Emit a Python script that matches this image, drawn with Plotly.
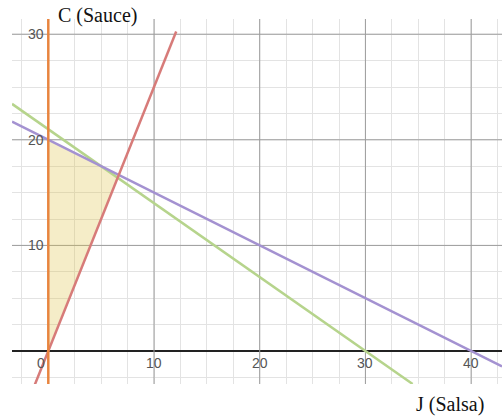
import numpy as np
import plotly.graph_objects as go

# Constraint lines  a*J + b*C = c  (J = Salsa, C = Sauce)
red_slope = 2.5            # C = 2.5 J
green_coef = [7, 10, 210]  # 7J + 10C = 210
purple_coef = [1, 2, 40]   # J + 2C = 40
red_j_range = [-1.4, 12.1]

x_range = [-3.434, 42.92]
y_range = [-3.125, 31.44]

x_major = [0, 10, 20, 30, 40]
y_major = [0, 10, 20, 30]
x_tick_labels = ["0", "10", "20", "30", "40"]
y_tick_labels = ["10", "20", "30"]

c_red = "#D77B79"
c_green = "#B6D48C"
c_purple = "#A492D1"
c_orange = "#E8853F"
c_fill = "rgba(222,195,72,0.30)"
c_major = "#9C9C9C"


def line_c(coef, j):
    a, b, c = coef
    return (c - a * j) / b


def intersect(coef1, coef2):
    A = np.array([coef1[:2], coef2[:2]], dtype=float)
    rhs = np.array([coef1[2], coef2[2]], dtype=float)
    return np.linalg.solve(A, rhs)


red_coef = [red_slope, -1, 0]
gp = intersect(green_coef, purple_coef)
gr = intersect(green_coef, red_coef)

# Feasible region bounded by J = 0, the ratio line and the two limits
region_j = [0, 0, gp[0], gr[0], 0]
region_c = [0, line_c(purple_coef, 0), gp[1], gr[1], 0]

fig = go.Figure()

# major grid lines every 10 units
gx, gy = [], []
for v in x_major[1:]:
    gx += [v, v, None]
    gy += [y_range[0], y_range[1], None]
for v in y_major[1:]:
    gx += [x_range[0], x_range[1], None]
    gy += [v, v, None]
fig.add_trace(go.Scatter(x=gx, y=gy, mode="lines", line=dict(color=c_major, width=1),
                         hoverinfo="skip", connectgaps=False))

fig.add_trace(go.Scatter(x=region_j, y=region_c, fill="toself", fillcolor=c_fill,
                         line=dict(width=0), mode="lines", hoverinfo="skip"))

jg = np.array([x_range[0], (green_coef[2] - green_coef[1] * y_range[0]) / green_coef[0]])
fig.add_trace(go.Scatter(x=jg, y=line_c(green_coef, jg), mode="lines",
                         line=dict(color=c_green, width=2.5)))

jp = np.array([x_range[0], x_range[1]])
fig.add_trace(go.Scatter(x=jp, y=line_c(purple_coef, jp), mode="lines",
                         line=dict(color=c_purple, width=2.5)))

jr = np.array(red_j_range)
fig.add_trace(go.Scatter(x=jr, y=red_slope * jr, mode="lines",
                         line=dict(color=c_red, width=2.5)))

fig.add_trace(go.Scatter(x=[0, 0], y=[y_range[0], y_range[1]], mode="lines",
                         line=dict(color=c_orange, width=2.5)))

tick_font = dict(family="Liberation Sans, Arial, sans-serif", size=14, color="#555555")
annotations = []
for v, s in zip(x_major, x_tick_labels):
    if v == 0:
        annotations.append(dict(x=v, y=0, text=s, showarrow=False, xanchor="right",
                                yanchor="top", xshift=-1, yshift=-2, font=tick_font))
    else:
        annotations.append(dict(x=v, y=0, text=s, showarrow=False, xanchor="center",
                                yanchor="top", yshift=-2, font=tick_font))
for v, s in zip(y_major[1:], y_tick_labels):
    annotations.append(dict(x=0, y=v, text=s, showarrow=False, xanchor="right",
                            yanchor="middle", xshift=-2, font=tick_font))

W, H = 502, 418
ml, mr, mt, mb = 12, 0, 19, 34
pw, ph = W - ml - mr, H - mt - mb


def px_to_paper(px, py):
    return (px - ml) / pw, (H - py - mb) / ph


label_font = dict(family="Liberation Serif, Times New Roman, serif", size=20, color="#111111")
cx, cy = px_to_paper(97, 15)
annotations.append(dict(x=cx, y=cy, xref="paper", yref="paper", text="C (Sauce)",
                        xanchor="center", yanchor="middle", showarrow=False, font=label_font))
jx, jy = px_to_paper(450, 404)
annotations.append(dict(x=jx, y=jy, xref="paper", yref="paper", text="J (Salsa)",
                        xanchor="center", yanchor="middle", showarrow=False, font=label_font))

fig.update_layout(
    width=W, height=H,
    margin=dict(l=ml, r=mr, t=mt, b=mb, pad=0),
    paper_bgcolor="white", plot_bgcolor="white",
    showlegend=False,
    annotations=annotations,
    xaxis=dict(range=x_range, tick0=0, dtick=2.5, showticklabels=False, ticks="",
               showgrid=True, gridcolor="#E3E3E3", gridwidth=1,
               zeroline=False, showline=False, fixedrange=True),
    yaxis=dict(range=y_range, tick0=0, dtick=2.5, showticklabels=False, ticks="",
               showgrid=True, gridcolor="#E3E3E3", gridwidth=1,
               zeroline=True, zerolinecolor="#222222", zerolinewidth=2,
               showline=False, fixedrange=True),
)

fig.write_html("out.html")
